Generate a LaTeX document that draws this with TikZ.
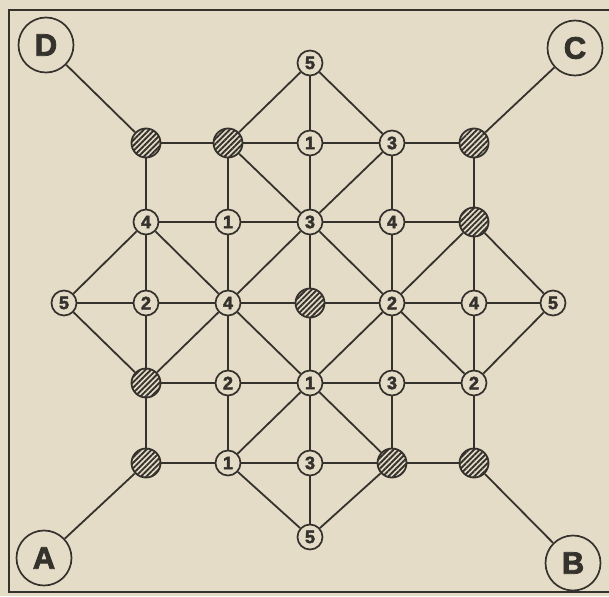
\documentclass[tikz,border=0pt]{standalone}
\usepackage{fontspec}
\setmainfont{Liberation Sans}
\newfontfamily\heavyfont{Liberation Sans Bold}[FakeBold=2.5]
\usetikzlibrary{patterns.meta}
\definecolor{paper}{HTML}{E5DCC8}
\definecolor{ink}{HTML}{35322E}
\begin{document}
\begin{tikzpicture}[x=1pt,y=-1pt,
  num/.style={circle,draw=ink,line width=1.7pt,fill=paper,minimum size=25pt,inner sep=0pt,font=\heavyfont\fontsize{18}{18}\selectfont,text=ink},
  hat/.style={circle,draw=ink,line width=1.8pt,minimum size=29pt,inner sep=0pt,pattern={Lines[angle=45,distance=3.8pt,line width=1.9pt]},pattern color=ink},
  big/.style={circle,draw=ink,line width=1.7pt,fill=paper,minimum size=55pt,inner sep=0pt,font=\heavyfont\fontsize{31}{31}\selectfont,text=ink},
  link/.style={draw=ink,line width=1.8pt}]
\useasboundingbox (0,0) rectangle (609,596);
\fill[paper] (0,0) rectangle (609,596);
\draw[ink,line width=2.5pt] (9,10) rectangle (640,592);
% nodes
\node[num] (t5) at (310,63) {5};
\node[hat] (h11) at (146,143) {};
\node[hat] (h21) at (228,143) {};
\node[num] (n31) at (310,143) {1};
\node[num] (n41) at (392,143) {3};
\node[hat] (h51) at (474,143) {};
\node[num] (n12) at (146,222) {4};
\node[num] (n22) at (228,222) {1};
\node[num] (n32) at (310,222) {3};
\node[num] (n42) at (392,222) {4};
\node[hat] (h52) at (474,222) {};
\node[num] (n03) at (64,303) {5};
\node[num] (n13) at (146,303) {2};
\node[num] (n23) at (228,303) {4};
\node[hat] (h33) at (310,303) {};
\node[num] (n43) at (392,303) {2};
\node[num] (n53) at (474,303) {4};
\node[num] (n63) at (553,303) {5};
\node[hat] (h14) at (146,383) {};
\node[num] (n24) at (228,383) {2};
\node[num] (n34) at (310,383) {1};
\node[num] (n44) at (392,383) {3};
\node[num] (n54) at (474,383) {2};
\node[hat] (h15) at (146,463) {};
\node[num] (n25) at (228,463) {1};
\node[num] (n35) at (310,463) {3};
\node[hat] (h45) at (392,463) {};
\node[hat] (h55) at (474,463) {};
\node[num] (b5) at (310,537) {5};
\node[big] (D) at (46,45) {D};
\node[big] (C) at (575,48) {C};
\node[big] (A) at (44,558) {A};
\node[big] (B) at (573,563) {B};
% connectors
\foreach \a/\b in {D/h11,h11/h21,h21/t5,t5/n31,h21/n31,h21/n32,h11/n12,h21/n22,n31/n32,n12/n22,n22/n32,n12/n03,n12/n13,n12/n23,n22/n23,n32/n23,n32/h33,
 t5/n41,n31/n41,n41/h51,C/h51,n41/n32,n41/n42,h51/h52,n32/n42,n42/h52,n32/n43,n42/n43,h52/n43,h52/n53,h52/n63,
 n03/n13,n13/n23,n23/h33,n03/h14,n13/h14,n23/h14,n23/n24,n23/n34,h33/n34,h14/n24,n24/n34,h14/h15,n24/n25,n34/n25,h15/n25,n25/n35,n34/n35,n25/b5,n35/b5,h15/A,
 h33/n43,n43/n53,n53/n63,n34/n43,n43/n44,n43/n54,n53/n54,n63/n54,n34/n44,n44/n54,n34/h45,n44/h45,n54/h55,n35/h45,h45/h55,h45/b5,h55/B}
  \path[link] (\a) -- (\b);
\end{tikzpicture}
\end{document}
